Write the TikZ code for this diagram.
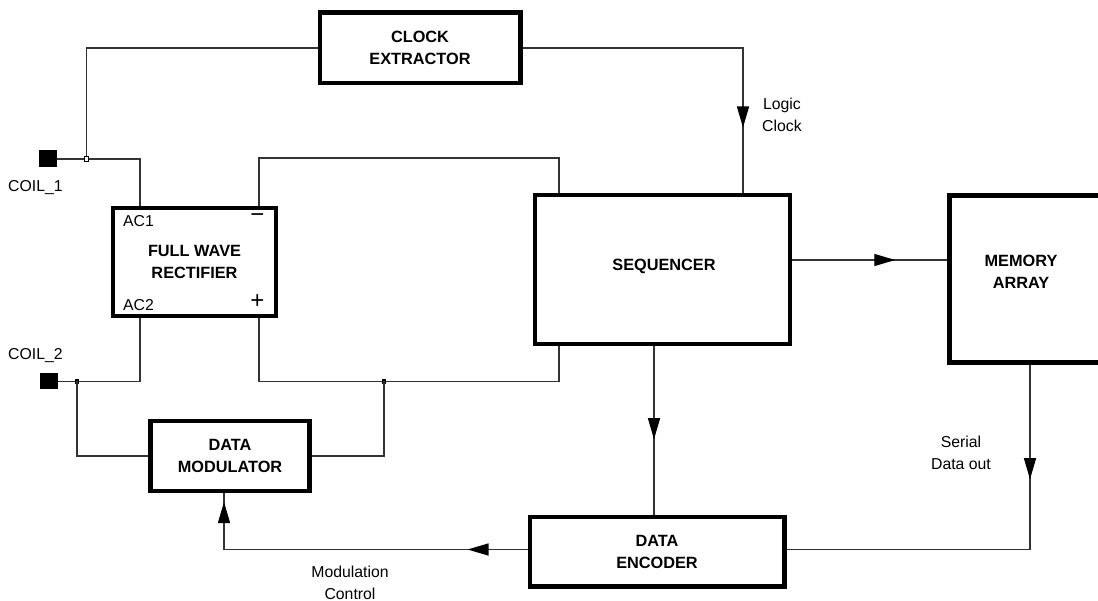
\documentclass[tikz,border=0pt]{standalone}
\usepackage{fontspec}
\setmainfont{Liberation Sans}
\usetikzlibrary{arrows.meta,decorations.markings}

\tikzset{
  flowtip/.tip={Triangle[length=21pt,width=12pt,color=black]},
  block/.style={draw=black, line width=4.5pt, inner sep=0pt, align=center,
    font=\fontsize{16.3}{22}\selectfont\bfseries},
  wire/.style={draw=black!80, line width=1.3pt},
  pin/.style={fill=black, inner sep=0pt},
  opensq/.style={draw=black, fill=white, line width=0.8pt, inner sep=0pt,
    minimum size=4.5pt},
  dotsq/.style={fill=black, inner sep=0pt, minimum size=4.5pt},
  lbl/.style={inner sep=0pt, font=\fontsize{15.8}{22}\selectfont, align=center},
  sign/.style={inner sep=0pt, font=\fontsize{24}{24}\selectfont},
  flowmark/.style={postaction={decorate}, decoration={markings,
    mark=at position #1 with {\arrow{flowtip}}}},
}

\begin{document}
\begin{tikzpicture}[x=1pt, y=-1pt]
\clip (0,0) rectangle (1098,601);
\fill[white] (0,0) rectangle (1098,601);

% functional blocks
\node[block, minimum width=200.5pt, minimum height=70.5pt] (ce) at (420,48) {CLOCK\\EXTRACTOR};
\node[block, minimum width=163pt, minimum height=108pt] (fwr) at (194.5,262) {FULL WAVE\\RECTIFIER};
\node[block, minimum width=255pt, minimum height=149pt] (seq) at (662.5,269.5) {};
\node[block, minimum width=165.5pt, minimum height=167pt] (mem) at (1032.25,279) {};
\node[block, minimum width=254.5pt, minimum height=69.5pt] (enc) at (657,551.5) {DATA\\ENCODER};
\node[block, minimum width=159pt, minimum height=69.5pt] (mod) at (230,456) {DATA\\MODULATOR};

\node[lbl, font=\fontsize{16.3}{22}\selectfont\bfseries] (seqtxt) at (664,266) {SEQUENCER};
\node[lbl, font=\fontsize{16.3}{22}\selectfont\bfseries] (memtxt) at (1021,272) {MEMORY\\ARRAY};

% rectifier pin labels
\node[lbl, anchor=west] (ac1) at (123,221) {AC1};
\node[lbl, anchor=west] (ac2) at (123,305) {AC2};
\node[sign] (minus) at (257.5,218) {−};
\node[sign] (plus) at (257.5,302) {+};

% coil terminals
\node[pin, minimum width=18pt, minimum height=17pt] (c1) at (47.5,159) {};
\node[pin, minimum width=18pt, minimum height=16pt] (c2) at (48.5,381.5) {};
\node[lbl, anchor=west] (c1txt) at (8,188) {COIL\_1};
\node[lbl, anchor=west] (c2txt) at (8,356) {COIL\_2};

% routing points
\coordinate (lc) at (743,48);
\coordinate (acone) at (140,159);
\coordinate (neg) at (259,158);
\coordinate (seqin) at (559,158);
\coordinate (s2m) at (870,260);
\coordinate (sd) at (1030,549.5);
\coordinate (s2e) at (654,400);
\coordinate (mc) at (224,549.5);
\coordinate (actwo) at (140,381.5);
\coordinate (pos) at (259,381.5);
\coordinate (seqret) at (559,381.5);

% clock extractor input from COIL_1
\path[wire] (ce.west) -| (86.5,159);
\path[wire] (c1.east) -- (acone) -- (acone |- fwr.north);
\node[opensq] (j1) at (86.5,159) {};

% rectifier outputs to the sequencer
\path[wire] (neg |- fwr.north) -- (neg) -- (seqin) -- (seqin |- seq.north);
\path[wire] (pos |- fwr.south) -- (pos) -- (seqret) -- (seqret |- seq.south);

% COIL_2 side
\path[wire] (actwo |- fwr.south) -- (actwo) -- (c2.east |- actwo);

% modulator taps
\node[dotsq] (j2) at (77,381.5) {};
\node[dotsq] (j3) at (384,381.5) {};
\path[wire] (j2.center) |- (mod.west);
\path[wire] (j3.center) |- (mod.east);

% logic clock
\path[wire, flowmark=300pt] (ce.east) -- (lc) -- (lc |- seq.north);
\node[lbl, anchor=west] (lctxt) at (762,114.5) {Logic\\Clock};

% sequencer to memory array
\path[wire, flowmark=103pt] (s2m -| seq.east) -- (s2m -| mem.west);

% sequencer to data encoder
\path[wire, flowmark=93pt] (s2e |- seq.south) -- (s2e |- enc.north);

% serial data out
\path[wire, flowmark=114.5pt] (sd |- mem.south) -- (sd) -- (sd -| enc.east);
\node[lbl] (sdtxt) at (961,453) {Serial\\Data out};

% modulation control
\path[wire, postaction={decorate}, decoration={markings,
    mark=at position 60pt with {\arrow{flowtip}},
    mark=at position 351pt with {\arrow{flowtip}}}]
  (mc -| enc.west) -- (mc) -- (mc |- mod.south);
\node[lbl] (mctxt) at (350,583) {Modulation\\Control};
\end{tikzpicture}
\end{document}
